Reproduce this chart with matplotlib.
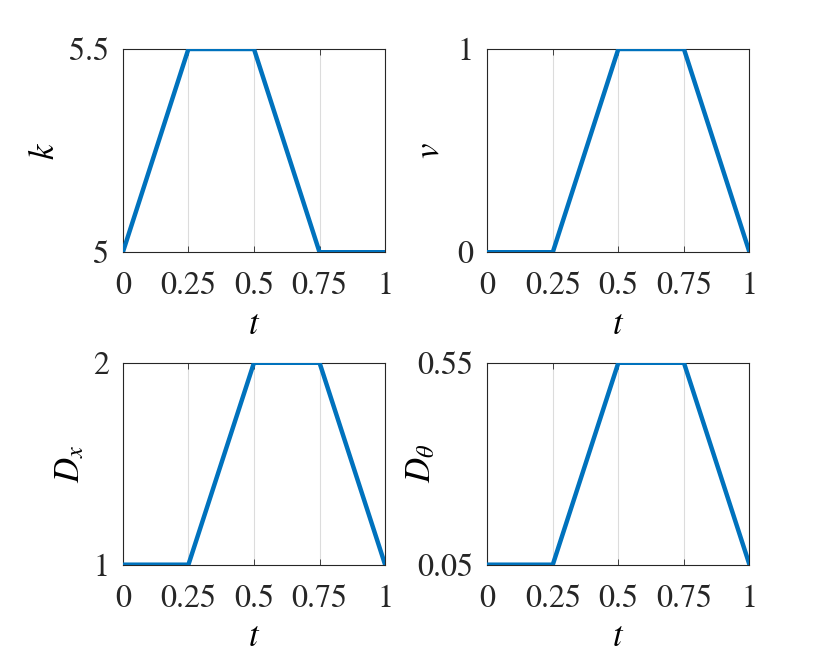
import matplotlib
matplotlib.use('Agg')
import matplotlib.pyplot as plt

plt.rcParams['font.family'] = 'serif'
plt.rcParams['font.serif'] = ['STIXGeneral', 'Liberation Serif', 'DejaVu Serif']
plt.rcParams['mathtext.fontset'] = 'stix'

# Data (piecewise linear profiles)
t_k = [0, 0.25, 0.5, 0.75, 1]
k_vals = [5, 5.5, 5.5, 5, 5]

t_v = [0, 0.25, 0.5, 0.75, 1]
v_vals = [0, 0, 1, 1, 0]

t_dx = [0, 0.25, 0.5, 0.75, 1]
dx_vals = [1, 1, 2, 2, 1]

t_dth = [0, 0.25, 0.5, 0.75, 1]
dth_vals = [0.05, 0.05, 0.55, 0.55, 0.05]

xticks = [0, 0.25, 0.5, 0.75, 1]
xticklabels = ['0', '0.25', '0.5', '0.75', '1']

# (t, y, ylabel, yticks, yticklabels, ylabel x-offset in axes fraction)
panels = [
    (t_k, k_vals, r'$k$', [5, 5.5], ['5', '5.5'], -0.232),
    (t_v, v_vals, r'$v$', [0, 1], ['0', '1'], -0.155),
    (t_dx, dx_vals, r'$D_x$', [1, 2], ['1', '2'], -0.137),
    (t_dth, dth_vals, r'$D_\theta$', [0.05, 0.55], ['0.05', '0.55'], -0.185),
]

positions = [
    [0.148, 0.619, 0.316, 0.307],
    [0.587, 0.619, 0.316, 0.307],
    [0.148, 0.147, 0.316, 0.305],
    [0.587, 0.147, 0.316, 0.305],
]

fig = plt.figure(figsize=(8.3, 6.62), dpi=100)

for (t, y, lab, yt, ytl, lx), pos in zip(panels, positions):
    ax = fig.add_axes(pos)
    ax.plot(t, y, color='#0072BD', linewidth=3.2, solid_joinstyle='miter', zorder=3)
    ax.set_xlim(0, 1)
    ax.set_ylim(yt[0], yt[1])
    ax.set_xticks(xticks)
    ax.set_xticklabels(xticklabels)
    ax.set_yticks(yt)
    ax.set_yticklabels(ytl)
    ax.grid(True, axis='x', color='#dcdcdc', linewidth=0.8)
    ax.tick_params(direction='in', length=4, width=0.6, labelsize=23, colors='#262626',
                   top=True, right=False, pad=14)
    ax.tick_params(axis='y', length=0, pad=10)
    for s in ax.spines.values():
        s.set_linewidth(0.8)
        s.set_color('#262626')
    ax.set_xlabel(r'$t$', fontsize=25)
    ax.xaxis.set_label_coords(0.5, -0.286)
    ax.set_ylabel(lab, fontsize=25)
    ax.yaxis.set_label_coords(lx, 0.5)

fig.savefig('out.png', dpi=100)
